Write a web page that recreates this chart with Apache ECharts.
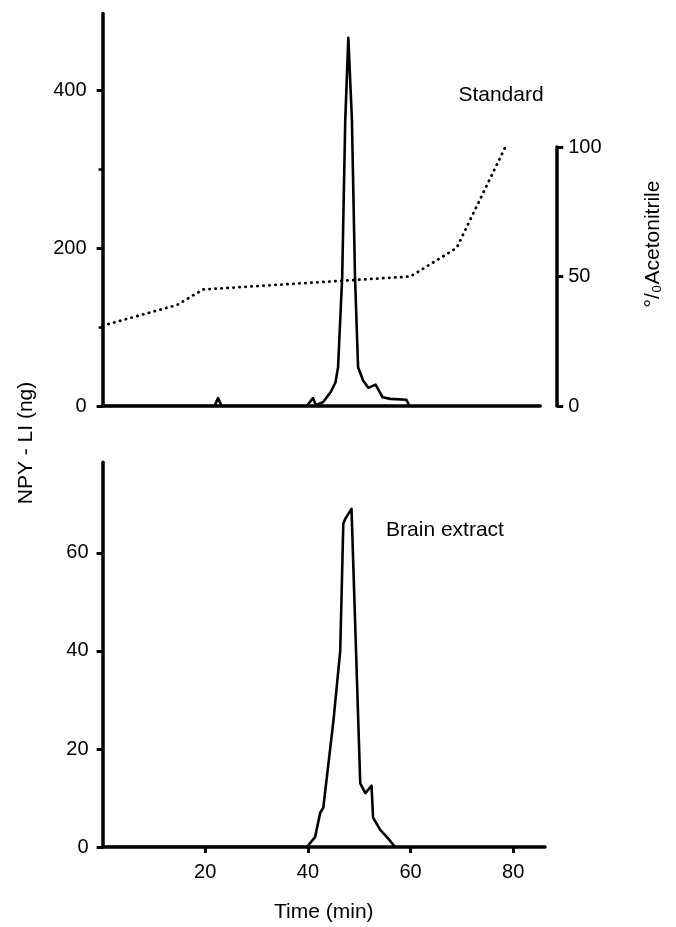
<!DOCTYPE html>
<html>
<head>
<meta charset="utf-8">
<script src="https://cdn.jsdelivr.net/npm/echarts@6/dist/echarts.min.js"></script>
<style>
html,body{margin:0;padding:0;background:#fff;}
#chart{width:676px;height:927px;}
</style>
</head>
<body>
<div id="chart"></div>
<script>
// ---- Data ----
var stdTime = [0, 21.8, 22.5, 23.2, 39.8, 41.0, 41.6, 43.0, 44.5, 45.4, 45.9, 46.7, 47.3, 47.9, 48.6, 49.2, 49.8, 50.8, 51.8, 53.2, 54.6, 56.1, 59.2, 59.8];
var stdNg   = [0, 0, 10, 0, 0, 10, 1, 5, 18, 30, 49, 163, 362, 466, 362, 163, 49, 32, 23, 27, 11, 9, 8, 0];

var acetoTime = [0, 14.5, 19.6, 60, 69, 78.5];
var acetoPct  = [31, 39, 45, 50, 61, 100];

var brainTime = [0, 39.8, 41.4, 42.4, 43.0, 45.0, 46.3, 46.9, 47.3, 48.5, 49.2, 50.2, 51.2, 52.4, 52.7, 54.1, 55.4, 57.0];
var brainNg   = [0, 0, 2, 7, 8, 26, 40, 66, 67, 69, 46, 13, 11, 12.5, 6, 3.5, 2, 0];

var topLeftTicks = [0, 200, 400];
var topLeftMinorTicks = [100, 300];
var rightTicks = [0, 50, 100];
var bottomLeftTicks = [0, 20, 40, 60];
var timeTicks = [20, 40, 60, 80];

function pairs(xs, ys){ return xs.map(function(x,i){ return [x, ys[i]]; }); }

var FONT = 'Liberation Sans';
var axisLineStyle = {color:'#000', width:3.5};
var labelStyle = {color:'#000', fontFamily:FONT, fontSize:20};

var chart = echarts.init(document.getElementById('chart'), null, {renderer:'canvas'});
chart.setOption({
  backgroundColor:'#fff',
  animation:false,
  grid:[
    {left:102.6, top:13.4, width:437.6, height:392.6},
    {left:102.6, top:147, width:437.6, height:259},
    {left:102.6, top:462.3, width:442.4, height:384.7}
  ],
  xAxis:[
    {type:'value', gridIndex:0, min:0, max:85.3,
     axisLine:{show:true, onZero:false, lineStyle:axisLineStyle},
     axisTick:{show:false}, axisLabel:{show:false}, splitLine:{show:false}},
    {type:'value', gridIndex:1, min:0, max:85.3, show:false},
    {type:'value', gridIndex:2, min:0, max:86.2,
     axisLine:{show:true, onZero:false, lineStyle:axisLineStyle},
     axisTick:{show:true, length:6, customValues:timeTicks, lineStyle:{color:'#000', width:3}},
     axisLabel:Object.assign({customValues:timeTicks, margin:15}, labelStyle),
     splitLine:{show:false},
     name:'Time (min)', nameLocation:'middle', nameGap:55,
     nameTextStyle:{color:'#000', fontFamily:FONT, fontSize:21}}
  ],
  yAxis:[
    {type:'value', gridIndex:0, position:'left', min:0, max:497,
     axisLine:{show:true, onZero:false, lineStyle:axisLineStyle},
     axisTick:{show:true, length:6, customValues:topLeftTicks, lineStyle:{color:'#000', width:3}},
     axisLabel:Object.assign({customValues:topLeftTicks, margin:16}, labelStyle),
     splitLine:{show:false}},
    {type:'value', gridIndex:0, position:'left', offset:0, min:0, max:497,
     axisLine:{show:false, onZero:false},
     axisTick:{show:true, length:4, customValues:topLeftMinorTicks, lineStyle:{color:'#000', width:2.5}},
     axisLabel:{show:false}, splitLine:{show:false}},
    {type:'value', gridIndex:1, position:'right', offset:17, min:0, max:100,
     axisLine:{show:true, onZero:false, lineStyle:axisLineStyle},
     axisTick:{show:true, length:6, customValues:rightTicks, lineStyle:{color:'#000', width:3}},
     axisLabel:Object.assign({customValues:rightTicks, margin:11}, labelStyle),
     splitLine:{show:false}},
    {type:'value', gridIndex:2, position:'left', min:0, max:78.5,
     axisLine:{show:true, onZero:false, lineStyle:axisLineStyle},
     axisTick:{show:true, length:6, customValues:bottomLeftTicks, lineStyle:{color:'#000', width:3}},
     axisLabel:Object.assign({customValues:bottomLeftTicks, margin:14}, labelStyle),
     splitLine:{show:false}}
  ],
  series:[
    {type:'line', xAxisIndex:0, yAxisIndex:0, data:pairs(stdTime, stdNg),
     symbol:'none', lineStyle:{color:'#000', width:2.6, join:'round'}, z:5},
    {type:'line', xAxisIndex:1, yAxisIndex:2, data:pairs(acetoTime, acetoPct),
     symbol:'none', lineStyle:{color:'#000', width:2.8, type:[0.3, 5.7], cap:'round'}, z:4},
    {type:'line', xAxisIndex:2, yAxisIndex:3, data:pairs(brainTime, brainNg),
     symbol:'none', lineStyle:{color:'#000', width:2.6, join:'round'}, z:5}
  ],
  graphic:[
    {type:'text', x:501, y:95, style:{text:'Standard', fill:'#000', font:'21px "Liberation Sans"', textAlign:'center', textVerticalAlign:'middle'}},
    {type:'text', x:445, y:530, style:{text:'Brain extract', fill:'#000', font:'21px "Liberation Sans"', textAlign:'center', textVerticalAlign:'middle'}},
    {type:'text', x:26, y:443, rotation:Math.PI/2, style:{text:'NPY - LI (ng)', fill:'#000', font:'21px "Liberation Sans"', textAlign:'center', textVerticalAlign:'middle'}},
    {type:'text', x:653, y:244, rotation:Math.PI/2, style:{text:'°/₀Acetonitrile', fill:'#000', font:'21px "Liberation Sans"', textAlign:'center', textVerticalAlign:'middle'}}
  ]
});
</script>
</body>
</html>
